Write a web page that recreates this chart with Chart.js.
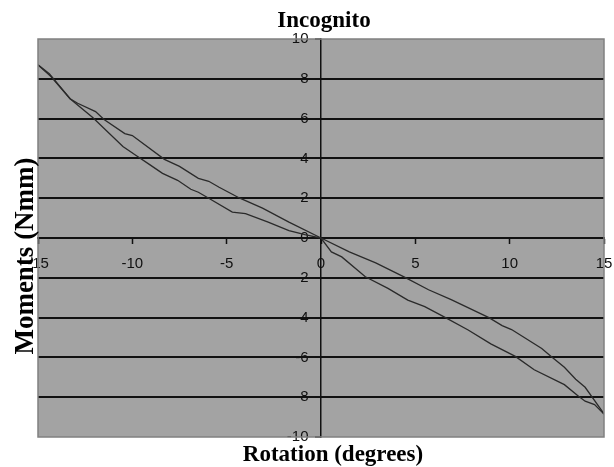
<!DOCTYPE html>
<html>
<head>
<meta charset="utf-8">
<script src="https://cdn.jsdelivr.net/npm/chart.js@4/dist/chart.umd.min.js"></script>
<style>
  html, body { margin: 0; padding: 0; background: #fff; }
  canvas { display: block; }
</style>
</head>
<body>
<canvas id="chart" width="614" height="467"></canvas>
<script>
// Chart data
const upperX = [-15, -14.4, -13.3, -12.9, -11.95, -11.5, -10.4, -10.0, -8.3, -7.5, -6.5, -5.95, -5.4, -4.3, -3.1, -1.7, 0,
                1.5, 2.9, 4.4, 5.7, 6.9, 8.9, 9.6, 10.1, 11.7, 12.2, 12.9, 13.5, 14.0, 14.9, 15];
const upperY = [8.7, 8.25, 7.0, 6.77, 6.35, 5.95, 5.25, 5.15, 3.95, 3.6, 3.0, 2.85, 2.55, 2.0, 1.5, 0.8, 0,
                -0.7, -1.25, -1.95, -2.6, -3.1, -4.0, -4.4, -4.6, -5.55, -5.95, -6.5, -7.1, -7.5, -8.7, -8.85];

const lowerX = [-15, -14.3, -13.3, -12.1, -10.5, -9.8, -9.1, -8.4, -7.6, -6.9, -6.5, -5.95, -4.7, -4.0, -2.8, -1.7, -0.85, 0,
                0.55, 1.1, 2.35, 3.55, 4.6, 5.5, 6.5, 7.8, 9.0, 10.3, 11.3, 12.9, 13.6, 14.0, 14.5, 15];
const lowerY = [8.7, 8.1, 7.0, 6.05, 4.6, 4.15, 3.7, 3.25, 2.9, 2.45, 2.3, 2.0, 1.3, 1.22, 0.8, 0.37, 0.17, 0,
                -0.7, -0.95, -1.95, -2.53, -3.12, -3.45, -3.95, -4.62, -5.32, -5.95, -6.62, -7.37, -7.92, -8.2, -8.37, -8.85];

const xTicks = [-15, -10, -5, 0, 5, 10, 15];
const yTicks = [-10, -8, -6, -4, -2, 0, 2, 4, 6, 8, 10];

const chartTitle = 'Incognito';
const xTitle = 'Rotation (degrees)';
const yTitle = 'Moments (Nmm)';

function toPoints(xs, ys) {
    return xs.map((x, i) => ({ x: x, y: ys[i] }));
}

// Grey plot area, its outline and the three titles
const decorations = {
    id: 'decorations',
    beforeDraw(chart) {
        const { ctx, chartArea: a } = chart;
        ctx.save();
        ctx.fillStyle = '#a3a3a3';
        ctx.fillRect(a.left, a.top, a.right - a.left, a.bottom - a.top);
        ctx.restore();
    },
    afterDraw(chart) {
        const { ctx, chartArea: a } = chart;
        ctx.save();
        ctx.strokeStyle = '#808080';
        ctx.lineWidth = 1.5;
        ctx.strokeRect(a.left, a.top, a.right - a.left, a.bottom - a.top);

        ctx.fillStyle = '#000';
        ctx.textAlign = 'center';
        ctx.textBaseline = 'alphabetic';
        ctx.font = 'bold 23px "Liberation Serif", "Times New Roman", serif';
        ctx.fillText(chartTitle, 324, 27);
        ctx.fillText(xTitle, 333, 461);

        ctx.translate(33, 256);
        ctx.rotate(-Math.PI / 2);
        ctx.font = 'bold 27px "Liberation Serif", "Times New Roman", serif';
        ctx.fillText(yTitle, 0, 0);
        ctx.restore();
    }
};

const tickFont = { family: '"Liberation Sans", Arial, sans-serif', size: 15 };

// no extra room for the first/last tick labels: the plot fills the padding box
function noLabelPadding(scale) {
    scale.paddingLeft = 0;
    scale.paddingRight = 0;
    scale.paddingTop = 0;
    scale.paddingBottom = 0;
}

new Chart(document.getElementById('chart'), {
    type: 'scatter',
    data: {
        datasets: [
            { data: toPoints(upperX, upperY) },
            { data: toPoints(lowerX, lowerY) }
        ]
    },
    options: {
        responsive: false,
        animation: false,
        showLine: true,
        layout: { padding: { left: 38, right: 10, top: 39, bottom: 30 } },
        elements: {
            point: { radius: 0 },
            line: { borderColor: '#2a2a2a', borderWidth: 1.3, tension: 0 }
        },
        plugins: {
            legend: { display: false },
            tooltip: { enabled: false },
            title: { display: false }
        },
        scales: {
            x: {
                type: 'linear',
                min: -15,
                max: 15,
                position: { y: 0 },
                afterBuildTicks: axis => { axis.ticks = xTicks.map(v => ({ value: v })); },
                afterFit: noLabelPadding,
                ticks: { font: tickFont, color: '#111', padding: 12, maxRotation: 0 },
                grid: { drawOnChartArea: false, drawTicks: true, tickLength: 5, color: '#111', tickWidth: 1.5 },
                border: { display: true, color: '#111', width: 2 }
            },
            y: {
                type: 'linear',
                min: -10,
                max: 10,
                position: { x: 0 },
                afterBuildTicks: axis => { axis.ticks = yTicks.map(v => ({ value: v })); },
                afterFit: noLabelPadding,
                ticks: {
                    font: tickFont,
                    color: '#111',
                    // centred axis labels sit right on the axis; trailing spaces keep a gap
                    callback: v => v + '   '
                },
                grid: {
                    color: ctx => (ctx.tick && Math.abs(ctx.tick.value) === 10) ? 'rgba(0,0,0,0)' : '#111',
                    tickColor: '#111',
                    lineWidth: 2,
                    tickWidth: 1.5,
                    tickLength: 5
                },
                border: { display: true, color: '#111', width: 1.5 }
            }
        }
    },
    plugins: [decorations]
});
</script>
</body>
</html>
